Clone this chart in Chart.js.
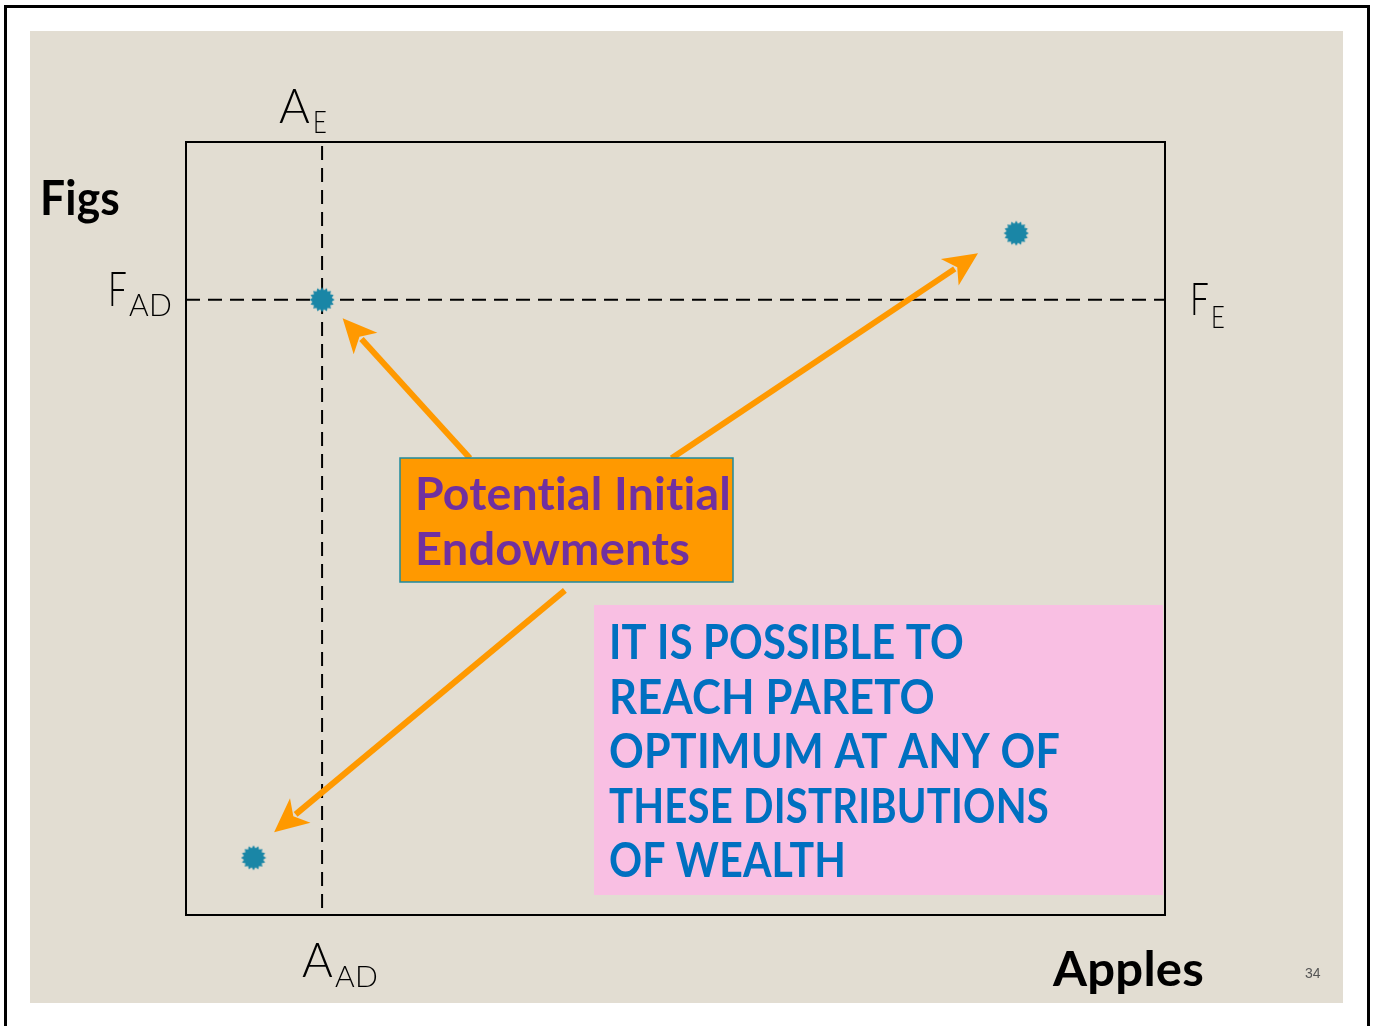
<!DOCTYPE html>
<html>
<head>
<meta charset="utf-8">
<script src="https://cdn.jsdelivr.net/npm/chart.js@4/dist/chart.umd.min.js"></script>
<style>
  html, body { margin: 0; padding: 0; background: #fff; }
  canvas { display: block; }
</style>
</head>
<body>
<canvas id="boxChart" width="1375" height="1026"></canvas>
<script>
// endowment points (apples, figs) on a 0-100 box
const pointX = [13.9, 84.8, 6.9];
const pointY = [79.6, 88.2, 7.4];

// dashed guide lines through the first endowment
const aeX = 13.9;
const fadY = 79.6;

// arrows: from label box to points
const arrowFromX = [29.0, 49.6, 38.7];
const arrowFromY = [59.1, 59.1, 42.0];
const arrowToX = [16.0, 80.9, 9.0];
const arrowToY = [77.2, 85.6, 10.7];

const calloutLines = ["Potential Initial", "Endowments"];
const noteLines = [
    "IT IS POSSIBLE TO",
    "REACH PARETO",
    "OPTIMUM AT ANY OF",
    "THESE DISTRIBUTIONS",
    "OF WEALTH",
];

const COLORS = {
    beige: "#e2ddd2",
    orange: "#ff9900",
    teal: "#1a86a6",
    purple: "#7030a0",
    blue: "#0070c0",
    pink: "#f9bfe3",
};

function makeStar() {
    const c = document.createElement("canvas");
    c.width = 26;
    c.height = 26;
    const g = c.getContext("2d");
    g.fillStyle = COLORS.teal;
    g.beginPath();
    const n = 16;
    for (let i = 0; i < n * 2; i++) {
        const r = i % 2 === 0 ? 12.5 : 9.8;
        const a = (Math.PI * i) / n;
        const px = 13 + r * Math.cos(a);
        const py = 13 + r * Math.sin(a);
        if (i === 0) g.moveTo(px, py);
        else g.lineTo(px, py);
    }
    g.closePath();
    g.fill();
    return c;
}

// draw text with given cap height, stretched to a target width
function fitText(ctx, text, x, base, width, cap, weight, color) {
    const size = cap / 0.72;
    ctx.save();
    ctx.font = weight + " " + size + "px Lato";
    // a tiny letter spacing stops the "ti" ligature
    if ("letterSpacing" in ctx) ctx.letterSpacing = "0.2px";
    const w = ctx.measureText(text).width;
    ctx.fillStyle = color;
    ctx.textBaseline = "alphabetic";
    ctx.translate(x, base);
    ctx.scale(width / w, 1);
    ctx.fillText(text, 0, 0);
    ctx.restore();
}

const slidePlugin = {
    id: "slide",
    beforeDraw(chart) {
        const ctx = chart.ctx;
        ctx.save();
        ctx.fillStyle = "#fff";
        ctx.fillRect(0, 0, chart.width, chart.height);
        ctx.strokeStyle = "#000";
        ctx.lineWidth = 3;
        ctx.strokeRect(5.5, 6.5, 1363, 1030);
        ctx.fillStyle = COLORS.beige;
        ctx.fillRect(30, 31, 1313, 972);
        ctx.restore();
    },
    afterDatasetsDraw(chart) {
        const ctx = chart.ctx;
        const xs = chart.scales.x;
        const ys = chart.scales.y;
        const a = chart.chartArea;

        // box outline
        ctx.save();
        ctx.strokeStyle = "#000";
        ctx.lineWidth = 2;
        ctx.strokeRect(a.left, a.top, a.right - a.left, a.bottom - a.top);

        // arrows
        ctx.strokeStyle = COLORS.orange;
        ctx.fillStyle = COLORS.orange;
        ctx.lineWidth = 6;
        for (let i = 0; i < arrowFromX.length; i++) {
            const x0 = xs.getPixelForValue(arrowFromX[i]);
            const y0 = ys.getPixelForValue(arrowFromY[i]);
            const x1 = xs.getPixelForValue(arrowToX[i]);
            const y1 = ys.getPixelForValue(arrowToY[i]);
            const ang = Math.atan2(y1 - y0, x1 - x0);
            const len = 34;
            const half = 16;
            const bx = x1 - len * Math.cos(ang);
            const by = y1 - len * Math.sin(ang);
            ctx.beginPath();
            ctx.moveTo(x0, y0);
            ctx.lineTo(bx + 6 * Math.cos(ang), by + 6 * Math.sin(ang));
            ctx.stroke();
            ctx.beginPath();
            ctx.moveTo(x1, y1);
            ctx.lineTo(bx - half * Math.sin(ang), by + half * Math.cos(ang));
            ctx.lineTo(bx + 9 * Math.cos(ang), by + 9 * Math.sin(ang));
            ctx.lineTo(bx + half * Math.sin(ang), by - half * Math.cos(ang));
            ctx.closePath();
            ctx.fill();
        }

        // callout box
        ctx.fillStyle = COLORS.orange;
        ctx.fillRect(400, 458, 333, 124);
        ctx.strokeStyle = "#1f8a9f";
        ctx.lineWidth = 1.5;
        ctx.strokeRect(400, 458, 333, 124);

        // note box
        ctx.fillStyle = COLORS.pink;
        ctx.fillRect(594, 605, 569, 290);
        ctx.restore();

        fitText(ctx, calloutLines[0], 415, 510, 316, 33, "bold", COLORS.purple);
        fitText(ctx, calloutLines[1], 415, 565, 275, 33, "bold", COLORS.purple);

        const noteWidths = [355, 326, 451, 440, 237];
        noteLines.forEach((t, i) => {
            fitText(ctx, t, 609, 659 + i * 54.5, noteWidths[i], 34, "bold", COLORS.blue);
        });

        // axis labels
        fitText(ctx, "Figs", 40, 215, 80, 34, "bold", "#000");
        fitText(ctx, "Apples", 1053, 986, 151, 34, "bold", "#000");

        const thin = "300";
        fitText(ctx, "A", 279, 123, 31, 34, thin, "#000");
        fitText(ctx, "E", 313, 133, 14, 22, thin, "#000");
        fitText(ctx, "F", 108, 306, 19, 34, thin, "#000");
        fitText(ctx, "AD", 129, 316, 43, 22, thin, "#000");
        fitText(ctx, "F", 1190, 315, 19, 33, thin, "#000");
        fitText(ctx, "E", 1211, 328, 14, 22, thin, "#000");
        fitText(ctx, "A", 302, 977, 31, 34, thin, "#000");
        fitText(ctx, "AD", 335, 987, 43, 21, thin, "#000");

        ctx.save();
        ctx.font = "14px Arial, 'Liberation Sans'";
        ctx.fillStyle = "#555";
        ctx.fillText("34", 1305, 978);
        ctx.restore();
    },
};

const star = makeStar();

new Chart(document.getElementById("boxChart"), {
    type: "scatter",
    data: {
        datasets: [
            {
                label: "Endowments",
                data: pointX.map((x, i) => ({ x: x, y: pointY[i] })),
                pointStyle: star,
                pointRadius: 12,
            },
            {
                type: "line",
                label: "A_E",
                data: [
                    { x: aeX, y: 0.9 },
                    { x: aeX, y: 100 },
                ],
                borderColor: "#000",
                borderWidth: 2,
                borderDash: [14, 8],
                pointRadius: 0,
                fill: false,
            },
            {
                type: "line",
                label: "F_AD",
                data: [
                    { x: 0, y: fadY },
                    { x: 100, y: fadY },
                ],
                borderColor: "#000",
                borderWidth: 2,
                borderDash: [14, 8],
                pointRadius: 0,
                fill: false,
            },
        ],
    },
    plugins: [slidePlugin],
    options: {
        responsive: false,
        animation: false,
        layout: {
            padding: { left: 186, top: 142, right: 210, bottom: 111 },
        },
        plugins: {
            legend: { display: false },
            tooltip: { enabled: false },
        },
        scales: {
            x: { type: "linear", min: 0, max: 100, display: false },
            y: { type: "linear", min: 0, max: 100, display: false },
        },
    },
});
</script>
</body>
</html>
